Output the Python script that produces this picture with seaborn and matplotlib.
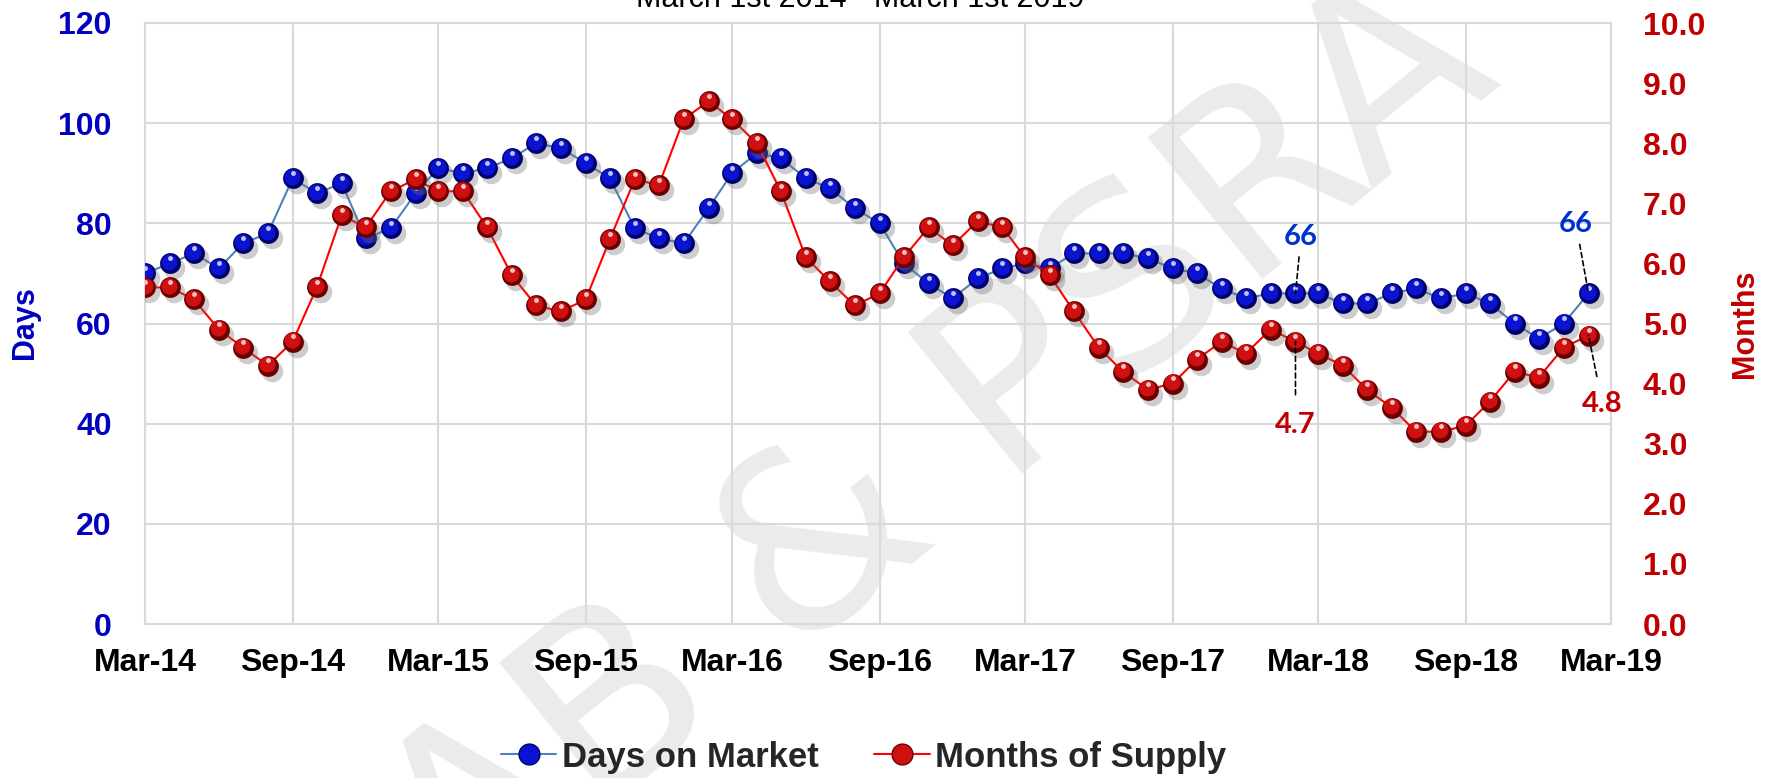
import numpy as np
import pandas as pd
import matplotlib
matplotlib.use("Agg")
import matplotlib.pyplot as plt
import matplotlib.dates as mdates
import matplotlib.transforms as mtransforms
from matplotlib.lines import Line2D
import seaborn as sns

# monthly readings, Mar-2014 .. Feb-2019
months_idx = pd.date_range("2014-03-01", periods=60, freq="MS")
days_on_market = [70, 72, 74, 71, 76, 78, 89, 86, 88, 77, 79, 86, 91, 90, 91, 93,
                  96, 95, 92, 89, 79, 77, 76, 83, 90, 94, 93, 89, 87, 83, 80,
                  72, 68, 65, 69, 71, 72, 71, 74, 74, 74, 73, 71, 70, 67, 65,
                  66, 66, 66, 64, 64, 66, 67, 65, 66, 64, 60, 57, 60, 66]
months_supply = [5.6, 5.6, 5.4, 4.9, 4.6, 4.3, 4.7, 5.6, 6.8, 6.6, 7.2, 7.4, 7.2, 7.2, 6.6, 5.8,
                 5.3, 5.2, 5.4, 6.4, 7.4, 7.3, 8.4, 8.7, 8.4, 8.0, 7.2, 6.1, 5.7, 5.3, 5.5,
                 6.1, 6.6, 6.3, 6.7, 6.6, 6.1, 5.8, 5.2, 4.6, 4.2, 3.9, 4.0, 4.4, 4.7, 4.5,
                 4.9, 4.7, 4.5, 4.3, 3.9, 3.6, 3.2, 3.2, 3.3, 3.7, 4.2, 4.1, 4.6, 4.8]
title = "March 1st 2014 - March 1st 2019"

df = pd.DataFrame({"date": months_idx, "days": days_on_market, "supply": months_supply})

sns.set_style("white")
plt.rcParams["font.family"] = ["Liberation Sans", "DejaVu Sans"]

BLUE_TXT = "#0000BF"
RED_TXT = "#C00000"
GRID = "#D9D9D9"

fig = plt.figure(figsize=(17.73, 7.78), dpi=100)
ax = fig.add_axes([145/1773, 1-624/778, 1466/1773, 601/778])
ax2 = ax.twinx()

def spheres(axis, x, y, dark, mid, z):
    sh = mtransforms.offset_copy(axis.transData, fig=fig, x=4, y=-5, units="dots")
    up = mtransforms.offset_copy(axis.transData, fig=fig, x=-0.5, y=1.5, units="dots")
    hi = mtransforms.offset_copy(axis.transData, fig=fig, x=0, y=5.5, units="dots")
    axis.plot(x, y, ls="none", marker="o", ms=15.5, mfc="#707070", mec="none", alpha=0.35, transform=sh, zorder=z)
    axis.plot(x, y, ls="none", marker="o", ms=15, mfc=dark, mec="none", zorder=z + 0.1)
    axis.plot(x, y, ls="none", marker="o", ms=11.5, mfc=mid, mec="none", transform=up, zorder=z + 0.2)
    axis.plot(x, y, ls="none", marker="o", ms=3.5, mfc="white", mec="none", alpha=0.75, transform=hi, zorder=z + 0.3)

# watermark
ax.text(0.53, 0.42, "AB & PSRA", transform=fig.transFigure, rotation=39, fontsize=180,
        color="#EBEBEB", ha="center", va="center", family="DejaVu Sans", zorder=0.4, clip_on=False)

sns.lineplot(data=df, x="date", y="days", ax=ax, color="#4F81BD", linewidth=1.5, zorder=2)
spheres(ax, df["date"], df["days"], "#00006A", "#0A14D0", 3)

sns.lineplot(data=df, x="date", y="supply", ax=ax2, color="#FF0000", linewidth=1.5, zorder=2)
spheres(ax2, df["date"], df["supply"], "#6A0000", "#D01010", 3)

ax.set_ylim(0, 120)
ax.set_yticks(range(0, 121, 20))
ax2.set_ylim(0, 10)
ax2.set_yticks(np.arange(0, 10.01, 1.0))
ax2.yaxis.set_major_formatter(matplotlib.ticker.FormatStrFormatter("%.1f"))
ax.set_xlim(pd.Timestamp("2014-03-01"), pd.Timestamp("2019-03-01"))
ax.xaxis.set_major_locator(mdates.MonthLocator(bymonth=[3, 9]))
ax.xaxis.set_major_formatter(mdates.DateFormatter("%b-%y"))

ax.set_axisbelow(True)
ax.grid(True, color=GRID, linewidth=1.5)
ax2.grid(False)
for s in ax.spines.values():
    s.set_color(GRID)
    s.set_linewidth(1.5)
for s in ax2.spines.values():
    s.set_visible(False)

ax.tick_params(axis="y", length=0, pad=24, labelsize=23, labelcolor=BLUE_TXT)
ax.tick_params(axis="x", length=0, pad=17, labelsize=23, labelcolor="black")
ax2.tick_params(axis="y", length=0, pad=23, labelsize=23, labelcolor=RED_TXT)
for lab in ax.get_xticklabels() + ax.get_yticklabels() + ax2.get_yticklabels():
    lab.set_fontweight("bold")

ax.set_xlabel("")
ax.set_ylabel("")
ax2.set_ylabel("")
fig.text(25/1773, 1-323/778, "Days", rotation=90, ha="center", va="center",
         fontsize=22, fontweight="bold", color=BLUE_TXT)
fig.text(1745/1773, 1-324/778, "Months", rotation=90, ha="center", va="center",
         fontsize=22, fontweight="bold", color=RED_TXT)
fig.text(0.485, 1-7/778, title, ha="center", va="baseline", fontsize=22, color="black")

# call-outs
dash = dict(arrowstyle="-", linestyle=(0, (3, 2)), color="black", lw=1.2, shrinkA=3, shrinkB=0)
lab_font = dict(family=["Lato", "DejaVu Sans"], fontweight="bold", fontsize=21)
ax.annotate(str(days_on_market[47]), xy=(months_idx[47], days_on_market[47]), xytext=(4, 41),
            textcoords="offset points", ha="center", va="center", color="#0033CC",
            arrowprops=dash, zorder=6, **lab_font)
ax.annotate(str(days_on_market[59]), xy=(months_idx[59], days_on_market[59]), xytext=(-9, 50),
            textcoords="offset points", ha="center", va="center", color="#0033CC",
            arrowprops=dash, zorder=6, **lab_font)
ax2.annotate(f"{months_supply[47]:.1f}", xy=(months_idx[47], months_supply[47]), xytext=(0, -60),
             textcoords="offset points", ha="center", va="center", color=RED_TXT,
             arrowprops=dict(dash, shrinkA=10), zorder=6, **lab_font)
ax2.annotate(f"{months_supply[59]:.1f}", xy=(months_idx[59], months_supply[59]), xytext=(10, -49),
             textcoords="offset points", ha="center", va="center", color=RED_TXT,
             arrowprops=dict(dash, shrinkA=8), zorder=6, **lab_font)

handles = [Line2D([], [], color="#4F81BD", lw=1.5, marker="o", ms=15, mfc="#0A14D0", mec="#00006A"),
           Line2D([], [], color="#FF0000", lw=1.5, marker="o", ms=15, mfc="#D01010", mec="#6A0000")]
fig.legend(handles, ["Days on Market", "Months of Supply"], loc="center",
           bbox_to_anchor=(0.487, 1-757/778), ncol=2, frameon=False,
           prop=dict(size=25, weight="bold"), handlelength=1.6, handletextpad=0.15,
           columnspacing=1.6)

fig.savefig("out.png", dpi=100)
